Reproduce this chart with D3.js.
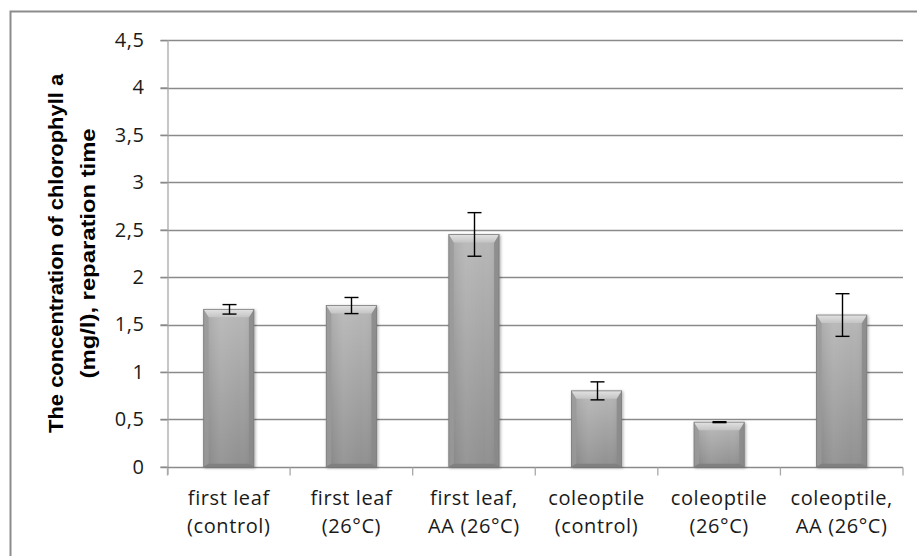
<!DOCTYPE html>
<html>
<head>
<meta charset="utf-8">
<script src="https://cdn.jsdelivr.net/npm/d3@7"></script>
<style>
  html, body { margin: 0; padding: 0; background: #fff; }
  svg { display: block; }
</style>
</head>
<body>
<svg id="chart" width="917" height="556"></svg>
<script>
// ---- data ----
const categories = [
  ["first leaf", "(control)"],
  ["first leaf", "(26°C)"],
  ["first leaf,", "AA (26°C)"],
  ["coleoptile", "(control)"],
  ["coleoptile", "(26°C)"],
  ["coleoptile,", "AA (26°C)"]
];
const values = [1.66, 1.70, 2.45, 0.80, 0.47, 1.60];
const errors = [0.05, 0.085, 0.23, 0.095, 0.005, 0.225];
const yTicks = [0, 0.5, 1, 1.5, 2, 2.5, 3, 3.5, 4, 4.5];
const yTitle = ["The concentration of chlorophyll a", "(mg/l), reparation time"];

// ---- layout ----
(function () {
const svg = d3.select("#chart");
const pL = 167.5, pR = 903, pT = 40.1, pB = 466.7;
const idx = d3.range(categories.length);
const x = d3.scaleBand().domain(idx).range([pL, pR]).padding(0);
const y = d3.scaleLinear().domain([0, 4.5]).range([pB, pT]);
const fontUI = "'Open Sans', 'Liberation Sans', sans-serif";
const gridCol = "#8a8a8a";

// outer border
svg.append("path")
  .attr("d", `M10.5,556 L10.5,11.5 L917,11.5`)
  .attr("fill", "none").attr("stroke", "#8c8c8c").attr("stroke-width", 2);

const defs = svg.append("defs");
const bodyGrad = defs.append("linearGradient").attr("id", "bodyGrad")
  .attr("x1", 0).attr("y1", 0).attr("x2", 0).attr("y2", 1);
bodyGrad.append("stop").attr("offset", "0%").attr("stop-color", "#b8b8b8");
bodyGrad.append("stop").attr("offset", "100%").attr("stop-color", "#909090");
const hGrad = defs.append("linearGradient").attr("id", "hGrad")
  .attr("x1", 0).attr("y1", 0).attr("x2", 1).attr("y2", 0);
hGrad.append("stop").attr("offset", "0%").attr("stop-color", "#000").attr("stop-opacity", 0.10);
hGrad.append("stop").attr("offset", "35%").attr("stop-color", "#fff").attr("stop-opacity", 0.06);
hGrad.append("stop").attr("offset", "70%").attr("stop-color", "#fff").attr("stop-opacity", 0.0);
hGrad.append("stop").attr("offset", "100%").attr("stop-color", "#000").attr("stop-opacity", 0.10);
const topGrad = defs.append("linearGradient").attr("id", "topGrad")
  .attr("x1", 0).attr("y1", 0).attr("x2", 0).attr("y2", 1);
topGrad.append("stop").attr("offset", "0%").attr("stop-color", "#e2e2e2");
topGrad.append("stop").attr("offset", "100%").attr("stop-color", "#c4c4c4");
const shadow = defs.append("filter").attr("id", "shadow")
  .attr("x", "-20%").attr("y", "-20%").attr("width", "140%").attr("height", "140%");
shadow.append("feDropShadow").attr("dx", 1).attr("dy", 1).attr("stdDeviation", 1.4)
  .attr("flood-color", "#000").attr("flood-opacity", 0.35);

// gridlines
svg.append("g").selectAll("line").data(yTicks.filter(d => d > 0)).join("line")
  .attr("x1", pL - 7).attr("x2", pR)
  .attr("y1", d => Math.round(y(d)) + 0.5).attr("y2", d => Math.round(y(d)) + 0.5)
  .attr("stroke", gridCol).attr("stroke-width", 1.3);

// y axis
const yAxis = svg.append("g").attr("transform", `translate(${pL},0)`)
  .call(d3.axisLeft(y).tickValues(yTicks).tickSize(7).tickPadding(16)
    .tickFormat(d => String(d).replace(".", ",")));
yAxis.select(".domain").attr("stroke", "#a8a8a8").attr("stroke-width", 1.3)
  .attr("d", `M0.5,${pT}V${pB + 8}`);
yAxis.selectAll(".tick line").attr("stroke", gridCol).attr("stroke-width", 1.3);
yAxis.selectAll(".tick text").attr("font-family", fontUI).attr("font-size", 20)
  .attr("letter-spacing", 0.6).attr("fill", "#1a1a1a");

// x axis
const xAxis = svg.append("g").attr("transform", `translate(0,${Math.round(pB) + 0.5})`);
xAxis.append("line").attr("x1", pL - 7).attr("x2", pR).attr("stroke", gridCol).attr("stroke-width", 1.3);
xAxis.selectAll("line.tk").data(d3.range(categories.length + 1)).join("line").attr("class", "tk")
  .attr("x1", i => i === 0 ? pL : x(i - 1) + x.bandwidth())
  .attr("x2", i => i === 0 ? pL : x(i - 1) + x.bandwidth())
  .attr("y1", 0).attr("y2", 8).attr("stroke", "#a8a8a8").attr("stroke-width", 1.3);
const labels = svg.append("g").selectAll("text").data(idx).join("text")
  .attr("font-family", fontUI).attr("font-size", 20).attr("letter-spacing", 0.6)
  .attr("fill", "#1a1a1a").attr("text-anchor", "middle");
labels.append("tspan").attr("x", i => x(i) + x.bandwidth() / 2).attr("y", 505).text(i => categories[i][0]);
labels.append("tspan").attr("x", i => x(i) + x.bandwidth() / 2).attr("y", 533).text(i => categories[i][1]);

// y title (same size for both lines, glyphs condensed to Calibri-like width)
const titleX = [63, 95];
const titleLen = [359, 250];
const titleFs = 19.5;
yTitle.forEach((t, k) => svg.append("text")
    .attr("transform", `translate(${titleX[k]},${(pT + pB) / 2}) rotate(-90)`)
    .attr("text-anchor", "middle")
    .attr("font-family", "'Liberation Sans', Arial, sans-serif")
    .attr("font-weight", "bold").attr("font-size", titleFs).attr("fill", "#000")
    .attr("textLength", titleLen[k]).attr("lengthAdjust", "spacingAndGlyphs")
    .text(t));

// bars
const bw = x.bandwidth() * 0.41;
const bars = svg.append("g").selectAll("g").data(idx).join("g").attr("filter", "url(#shadow)");
bars.each(function(i) {
  const g = d3.select(this);
  const x0 = x(i) + (x.bandwidth() - bw) / 2, x1 = x0 + bw;
  const yt = y(values[i]), yb = y(0);
  const sb = 5, tb = 8, bb = 3;
  g.append("rect").attr("x", x0).attr("y", yt).attr("width", bw).attr("height", yb - yt)
    .attr("fill", "url(#bodyGrad)");
  g.append("rect").attr("x", x0).attr("y", yt).attr("width", bw).attr("height", yb - yt)
    .attr("fill", "url(#hGrad)");
  g.append("path").attr("d", `M${x0},${yt}L${x0 + sb},${yt + tb}L${x0 + sb},${yb - bb}L${x0},${yb}Z`)
    .attr("fill", "#9a9a9a").attr("opacity", 0.8);
  g.append("path").attr("d", `M${x1},${yt}L${x1 - sb},${yt + tb}L${x1 - sb},${yb - bb}L${x1},${yb}Z`)
    .attr("fill", "#8a8a8a").attr("opacity", 0.85);
  g.append("path").attr("d", `M${x0},${yb}L${x0 + sb},${yb - bb}L${x1 - sb},${yb - bb}L${x1},${yb}Z`)
    .attr("fill", "#808080");
  g.append("path").attr("d", `M${x0},${yt}L${x1},${yt}L${x1 - sb},${yt + tb}L${x0 + sb},${yt + tb}Z`)
    .attr("fill", "url(#topGrad)");
  g.append("rect").attr("x", x0).attr("y", yt).attr("width", bw).attr("height", yb - yt)
    .attr("fill", "none").attr("stroke", "#7c7c7c").attr("stroke-width", 0.8);
});

// error bars
const eb = svg.append("g").attr("stroke", "#000").attr("stroke-width", 1.4).attr("fill", "none");
idx.forEach(i => {
  const cx = Math.round(x(i) + x.bandwidth() / 2) + 0.5;
  const hi = y(values[i] + errors[i]), lo = y(values[i] - errors[i]);
  eb.append("line").attr("x1", cx).attr("x2", cx).attr("y1", hi).attr("y2", lo);
  eb.append("line").attr("x1", cx - 7).attr("x2", cx + 7).attr("y1", hi).attr("y2", hi);
  eb.append("line").attr("x1", cx - 7).attr("x2", cx + 7).attr("y1", lo).attr("y2", lo);
});
})();
</script>
</body>
</html>
